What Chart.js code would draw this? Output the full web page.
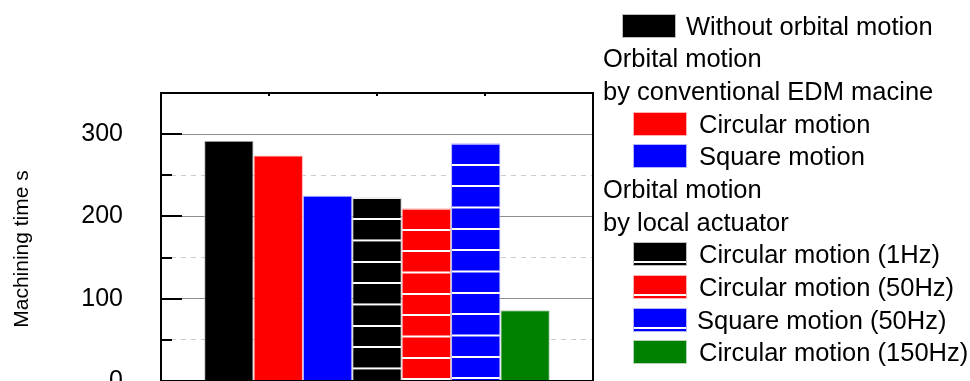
<!DOCTYPE html>
<html>
<head>
<meta charset="utf-8">
<script src="https://cdn.jsdelivr.net/npm/chart.js@4.4.1/dist/chart.umd.min.js"></script>
<style>
  html, body { margin: 0; padding: 0; background: #fff; overflow: hidden; }
  #wrap { position: relative; width: 970px; height: 381px; }
  #legend { position: absolute; left: 0; top: 0; width: 970px; height: 381px;
            font-family: 'Liberation Sans', Arial, sans-serif; font-size: 25.5px; color: #000; }
  .txt { position: absolute; white-space: nowrap; height: 30px; line-height: 30px; }
  .sw { position: absolute; width: 54px; height: 24px; box-sizing: border-box; }
</style>
</head>
<body>
<div id="wrap">
  <canvas id="chart" width="970" height="381"></canvas>
  <div id="legend"></div>
</div>
<script>
// data
const categories = ['Machining time'];
const seriesLabels = [
    'Without orbital motion',
    'Circular motion',
    'Square motion',
    'Circular motion (1Hz)',
    'Circular motion (50Hz)',
    'Square motion (50Hz)',
    'Circular motion (150Hz)'
];
const seriesValues = [[292], [274], [225], [223], [210], [289], [86]];
const seriesColors = ['#000000', '#ff0000', '#0000ff', '#000000', '#ff0000', '#0000ff', '#008000'];
const seriesEdges = ['#bdbdbd', '#ffb3b3', '#b3b3ff', '#bdbdbd', '#ffb3b3', '#b3b3ff', '#b8d4b8'];
const seriesHatched = [false, false, false, true, true, true, false];
const groupHeadings = ['Orbital motion', 'by conventional EDM macine', 'Orbital motion', 'by local actuator'];
const yTicks = [0, 100, 200, 300];
const yTitle = 'Machining time s';

const FONT = "'Liberation Sans', Arial, sans-serif";

// horizontal white lines every 21.33px, started from the bar top
function hatchPattern(color, top) {
    const c = document.createElement('canvas');
    c.width = 3;
    c.height = 64;
    const g = c.getContext('2d');
    g.fillStyle = color;
    g.fillRect(0, 0, 3, 64);
    g.fillStyle = '#ffffff';
    g.fillRect(0, 58, 3, 6);
    const p = g.createPattern(c, 'repeat');
    p.setTransform(new DOMMatrix().translate(0, top + 1.3).scale(1 / 3));
    return p;
}

const datasets = seriesLabels.map((label, i) => ({
    label: label,
    data: seriesValues[i],
    backgroundColor: seriesHatched[i]
        ? (ctx) => {
            const y = ctx.chart.scales.y;
            if (!y || ctx.raw == null) return seriesColors[i];
            return hatchPattern(seriesColors[i], y.getPixelForValue(ctx.raw));
        }
        : seriesColors[i],
    borderColor: seriesEdges[i],
    borderWidth: 1,
    borderSkipped: 'bottom'
}));

// black frame round the plot, inward ticks on the left, small ticks on top,
// and the y title (the original axis runs on below the cropped picture)
const frameTicks = {
    id: 'frameTicks',
    afterDatasetsDraw(chart) {
        const { ctx, chartArea: a, scales: { y } } = chart;
        ctx.save();
        ctx.strokeStyle = '#000';
        ctx.lineWidth = 2;
        ctx.strokeRect(a.left, a.top, a.right - a.left, a.bottom - a.top);
        ctx.beginPath();
        y.ticks.forEach(t => {
            const py = Math.round(y.getPixelForValue(t.value));
            const len = t.value % 100 === 0 ? 21 : 11;
            ctx.moveTo(a.left, py);
            ctx.lineTo(a.left + len, py);
        });
        for (let k = 1; k < 4; k++) {
            const px = Math.round(a.left + (a.right - a.left) * k / 4);
            ctx.moveTo(px, a.top);
            ctx.lineTo(px, a.top + 3);
        }
        ctx.stroke();

        ctx.translate(22, 249);
        ctx.rotate(-Math.PI / 2);
        ctx.fillStyle = '#000';
        ctx.font = '21px ' + FONT;
        ctx.textAlign = 'center';
        ctx.textBaseline = 'middle';
        ctx.fillText(yTitle, 0, 0);
        ctx.restore();
    }
};

new Chart(document.getElementById('chart'), {
    type: 'bar',
    data: { labels: categories, datasets: datasets },
    options: {
        responsive: false,
        animation: false,
        layout: { padding: { top: 93, right: 377, left: 0, bottom: 0 } },
        datasets: { bar: { categoryPercentage: 0.8, barPercentage: 1.0 } },
        plugins: { legend: { display: false }, tooltip: { enabled: false } },
        scales: {
            x: { display: false },
            y: {
                min: 0,
                max: 350,
                afterFit: (s) => { s.width = 161; s.paddingTop = 0; s.paddingBottom = 0; },
                border: {
                    display: false,
                    dash: (ctx) => (ctx.tick && ctx.tick.value % 100 !== 0 ? [5, 5] : [])
                },
                grid: {
                    drawTicks: false,
                    lineWidth: 1,
                    color: (ctx) => (ctx.tick && ctx.tick.value % 100 === 0 ? '#8e8e8e' : '#cccccc')
                },
                ticks: {
                    stepSize: 50,
                    padding: 38,
                    color: '#000',
                    font: { family: FONT, size: 25 },
                    callback: (v) => (yTicks.includes(v) ? String(v) : '')
                },
                title: { display: false }
            }
        }
    },
    plugins: [frameTicks]
});

// legend with group headings, as html text
const legendRows = [
    { series: 0 }, { heading: 0 }, { heading: 1 }, { series: 1 }, { series: 2 },
    { heading: 2 }, { heading: 3 }, { series: 3 }, { series: 4 }, { series: 5 }, { series: 6 }
];
const legend = document.getElementById('legend');
legendRows.forEach((row, r) => {
    const cy = 25.8 + 32.65 * r;
    const txt = document.createElement('div');
    txt.className = 'txt';
    txt.style.top = (cy - 15) + 'px';
    if (row.heading !== undefined) {
        txt.textContent = groupHeadings[row.heading];
        txt.style.left = '603px';
    } else {
        const i = row.series;
        const sw = document.createElement('div');
        sw.className = 'sw';
        sw.style.left = (i === 0 ? 622 : 633) + 'px';
        sw.style.top = (cy - 12) + 'px';
        sw.style.border = '1px solid ' + seriesEdges[i];
        const c = seriesColors[i];
        sw.style.background = seriesHatched[i]
            ? `linear-gradient(to bottom, ${c} 0, ${c} 18.5px, #fff 18.5px, #fff 20.5px, ${c} 20.5px)`
            : c;
        legend.appendChild(sw);
        txt.textContent = seriesLabels[i];
        txt.style.left = (i === 0 ? 686 : (i === 5 ? 697 : 699)) + 'px';
    }
    legend.appendChild(txt);
});
</script>
</body>
</html>
